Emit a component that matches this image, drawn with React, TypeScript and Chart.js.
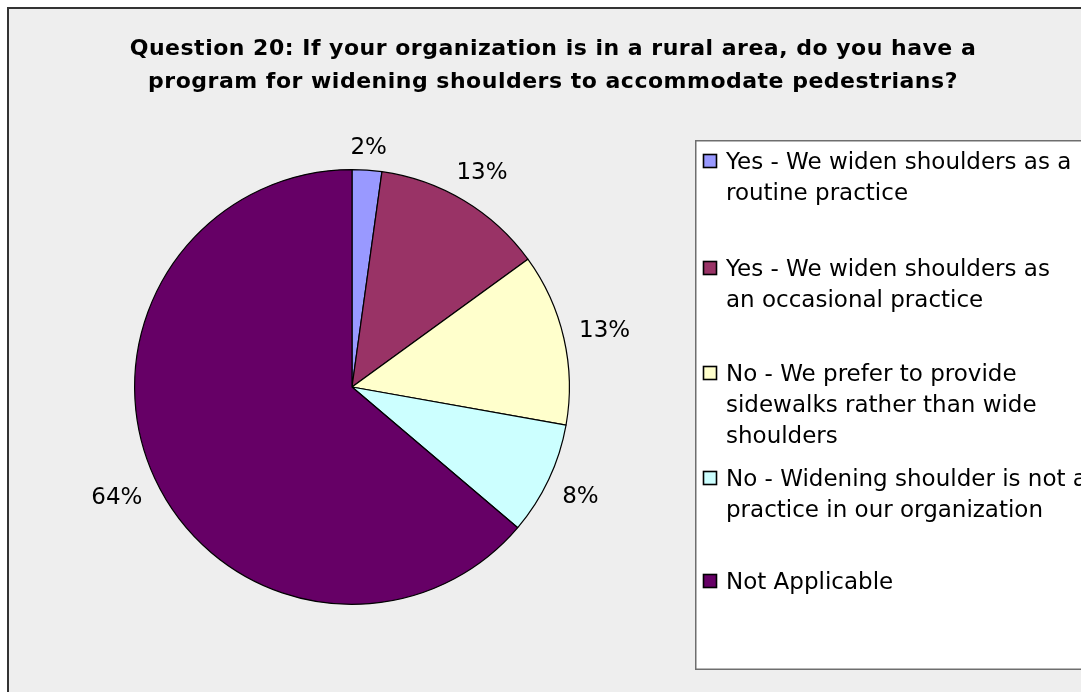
import React, { useEffect, useRef } from "react";
import { Chart, registerables } from "chart.js";

Chart.register(...registerables);

const titleLines = [
  "Question 20: If your organization is in a rural area, do you have a",
  "program for widening shoulders to accommodate pedestrians?",
];

const categories = [
  "Yes - We widen shoulders as a\nroutine practice",
  "Yes - We widen shoulders as\nan occasional practice",
  "No - We prefer to provide\nsidewalks rather than wide\nshoulders",
  "No - Widening shoulder is not a\npractice in our organization",
  "Not Applicable",
];

const shares = [2.2, 12.8, 12.8, 8.4, 63.8];

const sliceColors = ["#9999FF", "#993366", "#FFFFCC", "#CCFFFF", "#660066"];

const FONT = "'DejaVu Sans', 'Noto Sans', sans-serif";

export default function App() {
  const ref = useRef<HTMLCanvasElement>(null);

  useEffect(() => {
    const canvas = ref.current;
    if (!canvas) return;
    const total = shares.reduce((a, b) => a + b, 0);
    const percentLabels = shares.map((v) => Math.round((v / total) * 100) + "%");

    const framePlugin = {
      id: "framePlugin",
      beforeDraw(chart: any) {
        const { ctx, width, height } = chart;
        ctx.save();
        ctx.fillStyle = "#FFFFFF";
        ctx.fillRect(0, 0, width, height);
        ctx.fillStyle = "#EEEEEE";
        ctx.fillRect(7, 7, width, height);
        ctx.fillStyle = "#333333";
        ctx.fillRect(7, 7, 2, height);
        ctx.fillRect(7, 7, width, 2);

        // title
        ctx.fillStyle = "#000000";
        ctx.font = "bold 22px " + FONT;
        (ctx as any).letterSpacing = "0.5px";
        ctx.textAlign = "center";
        ctx.textBaseline = "alphabetic";
        titleLines.forEach((line, i) => {
          ctx.fillText(line, 553, 55 + i * 33);
        });
        (ctx as any).letterSpacing = "0px";

        // legend box
        ctx.fillStyle = "#FFFFFF";
        ctx.fillRect(695, 140, width, 529);
        ctx.strokeStyle = "#6E6E6E";
        ctx.lineWidth = 1.5;
        ctx.strokeRect(695.75, 140.75, width, 528.5);

        const entryBaselines = [169, 276, 381, 486, 589];
        const lineHeight = 31;
        ctx.font = "23px " + FONT;
        ctx.textAlign = "left";
        categories.forEach((label, i) => {
          const base = entryBaselines[i];
          ctx.fillStyle = sliceColors[i];
          ctx.fillRect(703.5, base - 14.5, 13, 13);
          ctx.strokeStyle = "#000000";
          ctx.lineWidth = 1.6;
          ctx.strokeRect(703.5, base - 14.5, 13, 13);
          ctx.fillStyle = "#000000";
          label.split("\n").forEach((ln, j) => {
            ctx.fillText(ln, 726, base + j * lineHeight);
          });
        });
        ctx.restore();
      },
      afterDatasetsDraw(chart: any) {
        const { ctx } = chart;
        const meta = chart.getDatasetMeta(0);
        ctx.save();
        ctx.font = "23px " + FONT;
        ctx.fillStyle = "#000000";
        ctx.textAlign = "center";
        ctx.textBaseline = "alphabetic";
        const capH = 23 * 0.729;
        meta.data.forEach((arc: any, i: number) => {
          const p = arc.getProps(["x", "y", "startAngle", "endAngle", "outerRadius"], true);
          const mid = (p.startAngle + p.endAngle) / 2;
          const cx = Math.cos(mid);
          const sy = Math.sin(mid);
          const text = percentLabels[i];
          const w = ctx.measureText(text).width;
          const dist = p.outerRadius + 15 + Math.abs(cx) * (w / 2) + Math.abs(sy) * (capH / 2);
          const lx = p.x + cx * dist;
          const ly = p.y + sy * dist;
          ctx.fillText(text, lx, ly + capH / 2);
        });
        ctx.restore();
      },
    };

    const chart = new Chart(canvas, {
      type: "pie",
      data: {
        labels: categories,
        datasets: [
          {
            data: shares,
            backgroundColor: sliceColors,
            borderColor: "#000000",
            borderWidth: 1.2,
          },
        ],
      },
      options: {
        animation: false,
        responsive: false,
        devicePixelRatio: 1,
        layout: { padding: { left: 134, top: 169, right: 511, bottom: 87 } },
        plugins: {
          legend: { display: false },
          title: { display: false },
          tooltip: { enabled: false },
        },
      },
      plugins: [framePlugin],
    });

    return () => chart.destroy();
  }, []);

  return (
    <div style={{ position: "absolute", left: 0, top: 0, width: 1081, height: 692 }}>
      <canvas ref={ref} width={1081} height={692} style={{ display: "block" }} />
    </div>
  );
}
